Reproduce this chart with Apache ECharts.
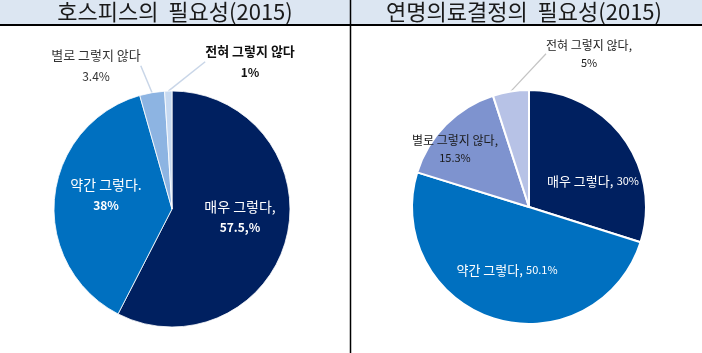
<!DOCTYPE html>
<html><head><meta charset="utf-8">
<script src="https://cdn.jsdelivr.net/npm/echarts@6/dist/echarts.min.js"></script>
<style>html,body{margin:0;padding:0;background:#fff}#c{width:702px;height:353px}</style>
</head><body><div id="c"></div>
<script>
// ---- data ----
const titles = ['호스피스의  필요성(2015)', '연명의료결정의  필요성(2015)'];
const categories = ['매우 그렇다', '약간 그렇다', '별로 그렇지 않다', '전혀 그렇지 않다'];
const hospiceValues = [57.5, 38, 3.4, 1];
const hospiceNames = ['매우 그렇다,', '약간 그렇다.', '별로 그렇지 않다', '전혀 그렇지 않다'];
const hospiceLabels = ['57.5,%', '38%', '3.4%', '1%'];
const lstValues = [30, 50.1, 15.3, 5];
const lstNames = ['매우 그렇다,', '약간 그렇다,', '별로 그렇지 않다,', '전혀 그렇지 않다,'];
const lstLabels = ['30%', '50.1%', '15.3%', '5%'];

// ---- styles ----
const FONT = '"Noto Sans CJK KR", "Noto Sans", sans-serif';
const leftColors = ['#002060', '#0070c0', '#8db4e2', '#c6d9f1'];
const rightColors = ['#002060', '#0070c0', '#7e93cf', '#b7c2e6'];
const leftPos = [[240, 217], [106, 195], [96, 66], [250, 62]];
const rightPos = [[593, 181], [507, 270], [455, 149], [589, 54]];

const leftRich = [
  {fmt: i => '{a|' + hospiceNames[i] + '}\n{b|' + hospiceLabels[i] + '}', color: '#fff', line: false},
  {fmt: i => '{a|' + hospiceNames[i] + '}\n{b|' + hospiceLabels[i] + '}', color: '#fff', line: false},
  {fmt: i => '{a|' + hospiceNames[i] + '}\n{c|' + hospiceLabels[i] + '}', color: '#333', line: true},
  {fmt: i => '{d|' + hospiceNames[i] + '}\n{e|' + hospiceLabels[i] + '}', color: '#111', line: true}
];

function leftData() {
  return categories.map((c, i) => ({
    name: c, value: hospiceValues[i],
    itemStyle: {color: leftColors[i]},
    label: {
      formatter: leftRich[i].fmt(i),
      color: leftRich[i].color,
      overflow: 'none',
      rich: {
        a: {fontSize: i < 2 ? 14 : 13, fontFamily: FONT, color: leftRich[i].color, lineHeight: 21, align: 'center'},
        b: {fontSize: 12, fontWeight: 'bold', fontFamily: FONT, color: '#fff', lineHeight: 21, align: 'center'},
        c: {fontSize: 12, fontFamily: FONT, color: '#333', lineHeight: 21, align: 'center'},
        d: {fontSize: 13, fontWeight: 'bold', fontFamily: FONT, color: '#111', lineHeight: 21, align: 'center'},
        e: {fontSize: 12, fontWeight: 'bold', fontFamily: FONT, color: '#111', lineHeight: 21, align: 'center'}
      }
    },
    labelLine: {show: leftRich[i].line, lineStyle: {color: '#c9d6e8', width: 1.5}}
  }));
}

function rightData() {
  return categories.map((c, i) => {
    let formatter, rich;
    if (i < 2) {
      formatter = '{a|' + lstNames[i] + '} {b|' + lstLabels[i] + '}';
      rich = {
        a: {fontSize: 13, fontFamily: FONT, color: '#fff'},
        b: {fontSize: 11, fontFamily: FONT, color: '#fff'}
      };
    } else {
      formatter = '{a|' + lstNames[i] + '}\n{b|' + lstLabels[i] + '}';
      rich = {
        a: {fontSize: 12, fontFamily: FONT, color: '#1a1a1a', lineHeight: 18, align: 'center'},
        b: {fontSize: 11, fontFamily: FONT, color: '#1a1a1a', lineHeight: 18, align: 'center'}
      };
    }
    return {
      name: c, value: lstValues[i],
      itemStyle: {color: rightColors[i]},
      label: {formatter: formatter, rich: rich, overflow: 'none'},
      labelLine: {show: i === 3, lineStyle: {color: '#c4c4c4', width: 1.2}}
    };
  });
}

const chart = echarts.init(document.getElementById('c'), null, {renderer: 'canvas'});
chart.setOption({
  animation: false,
  backgroundColor: '#ffffff',
  graphic: [
    {type: 'rect', z: -1, shape: {x: 0, y: 0, width: 702, height: 24}, style: {fill: '#dce6f2'}},
    {type: 'line', shape: {x1: 0, y1: 25, x2: 702, y2: 25}, style: {stroke: '#000', lineWidth: 2}},
    {type: 'line', shape: {x1: 350.5, y1: 0, x2: 350.5, y2: 353}, style: {stroke: '#000', lineWidth: 1.5}},
    {type: 'text', x: 175, y: 12, style: {text: titles[0], fontFamily: FONT, fontSize: 22, fill: '#1a1a1a', align: 'center', verticalAlign: 'middle'}},
    {type: 'text', x: 524, y: 12, style: {text: titles[1], fontFamily: FONT, fontSize: 22, fill: '#1a1a1a', align: 'center', verticalAlign: 'middle'}}
  ],
  series: [
    {
      type: 'pie', center: [172, 209], radius: 118, startAngle: 90, clockwise: true,
      itemStyle: {borderColor: '#fff', borderWidth: 0.8},
      label: {show: true, position: 'outside', overflow: 'none', alignTo: 'none'},
      labelLine: {length: 10, length2: 0},
      labelLayout: function (p) {
        const pos = leftPos[p.dataIndex];
        return {x: pos[0], y: pos[1], align: 'center', verticalAlign: 'middle'};
      },
      data: leftData()
    },
    {
      type: 'pie', center: [529, 207], radius: 117, startAngle: 90, clockwise: true,
      itemStyle: {borderColor: '#fff', borderWidth: 2},
      label: {show: true, position: 'outside', overflow: 'none', alignTo: 'none'},
      labelLine: {length: 10, length2: 0},
      labelLayout: function (p) {
        const pos = rightPos[p.dataIndex];
        return {x: pos[0], y: pos[1], align: 'center', verticalAlign: 'middle'};
      },
      data: rightData()
    }
  ]
});
</script>
</body></html>
